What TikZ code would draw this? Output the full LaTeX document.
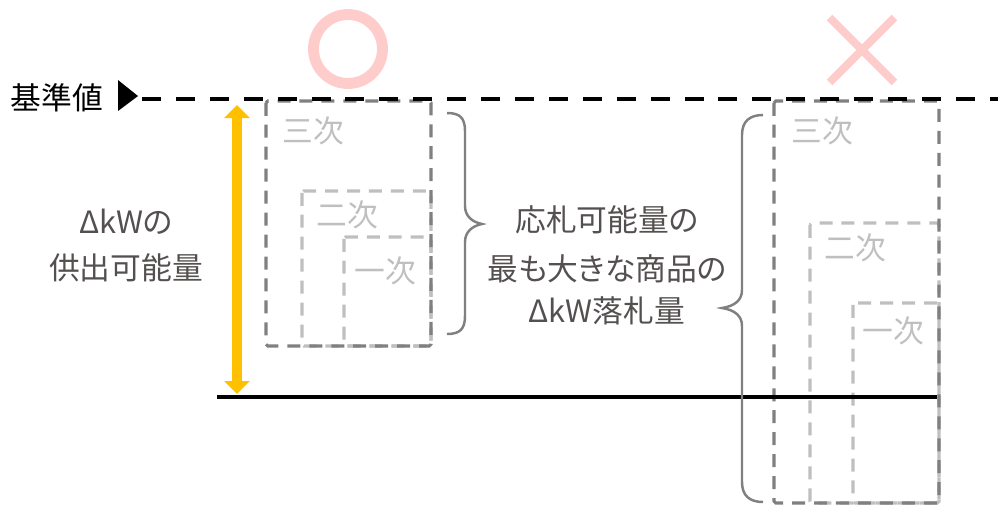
\documentclass[tikz,border=0pt]{standalone}
\usepackage{fontspec}
\setmainfont{Noto Sans CJK JP}[RawFeature=+palt]
\usetikzlibrary{arrows.meta,positioning,shapes.misc}

\definecolor{okpink}{RGB}{255,204,204}
\definecolor{txtgray}{RGB}{85,80,80}
\definecolor{boxdark}{RGB}{128,128,128}
\definecolor{boxlight}{RGB}{191,191,191}
\definecolor{supplyorange}{RGB}{255,192,0}

\begin{document}
\begin{tikzpicture}[x=0.02cm, y=-0.02cm, node distance = 0.97cm,
  every node/.style = {inner sep=0pt, font=\fontsize{17.5}{26}\selectfont},
  refline/.style = {line width=2.7pt, dash pattern=on 10.8pt off 8.5pt},
  floorline/.style = {line width=2.7pt},
  tertbox/.style = {draw=boxdark, line width=1.8pt, dash pattern=on 7.4pt off 5.1pt, rounded corners=1pt},
  lowbox/.style = {tertbox, draw=boxlight},
  boxlabel/.style = {text=boxlight},
  note/.style = {text=txtgray},
  bracepath/.style = {draw=boxdark, line width=1.4pt},
  supply/.style = {draw=supplyorange, line width=6.2pt,
    {Triangle[width=0.5cm,length=0.26cm]}-{Triangle[width=0.5cm,length=0.26cm]}}]
  \useasboundingbox (0,0) rectangle (998,512);

  % marks
  \node[circle, draw=okpink, line width=6.2pt, minimum size=1.38cm] (ok) at (348,49) {};
  \node[cross out, draw=okpink, line width=4.5pt, minimum size=1.14cm] (ng) at (862,50) {};

  % reference value
  \node (ref) at (57,98) {基準値};
  \fill (118,80) -- (138,96) -- (118,111) -- cycle;
  \coordinate (refL) at (142,99);
  \coordinate (refR) at (998,99);

  % left group
  \draw[lowbox] (302,191) rectangle (431,346);
  \draw[lowbox] (344,237) rectangle (431,346);
  \draw[tertbox] (266,101) rectangle (431,346);
  \node[boxlabel] (l3) at (313,131) {三次};
  \node[boxlabel] (l2) at (347,215) {二次};
  \node[boxlabel] (l1) at (385,271) {一次};

  % right group
  \draw[lowbox] (810,223) rectangle (939,503);
  \draw[lowbox] (853,303) rectangle (939,503);
  \draw[tertbox] (774,101) rectangle (939,503);
  \node[boxlabel] (r3) at (822,131) {三次};
  \node[boxlabel] (r2) at (855,248) {二次};
  \node[boxlabel] (r1) at (893,331) {一次};

  \draw[refline] (refL) -- (refR);

  \coordinate (floorL) at (217,397);
  \coordinate (floorR) at (937,397);
  \draw[floorline] (floorL) -- (floorR);

  % supply arrow
  \coordinate (suptop) at (237,105);
  \coordinate (supbot) at (237,394);
  \draw[supply] (suptop) -- (supbot);
  \node[note] (supply1) at (126,222) {ΔkWの};
  \node[note, below of = supply1, node distance = 0.92cm] (supply2) {供出可能量};

  % braces
  \draw[bracepath] (447,113) .. controls (460,113) and (465,118) .. (465,131)
    -- (465,206) .. controls (465,216) and (472,222) .. (482,224)
    .. controls (472,226) and (465,232) .. (465,242)
    -- (465,316) .. controls (465,329) and (460,334) .. (447,334);
  \draw[bracepath] (763,115) .. controls (750,115) and (742,121) .. (742,135)
    -- (742,290) .. controls (742,300) and (735,306) .. (722,308)
    .. controls (735,310) and (742,316) .. (742,326)
    -- (742,482) .. controls (742,496) and (750,502) .. (763,502);

  \node[note] (bid1) at (607,220) {応札可能量の};
  \node[note, below of = bid1] (bid2) {最も大きな商品の};
  \node[note, below of = bid2, node distance = 0.84cm] (bid3) {ΔkW落札量};
\end{tikzpicture}
\end{document}
